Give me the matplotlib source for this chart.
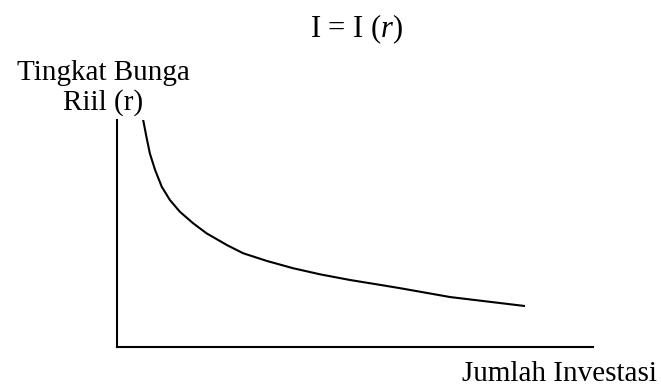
import matplotlib
matplotlib.use('Agg')
import matplotlib.pyplot as plt

plt.rcParams['font.family'] = 'Liberation Serif'
plt.rcParams['mathtext.fontset'] = 'custom'
plt.rcParams['mathtext.rm'] = 'Liberation Serif'
plt.rcParams['mathtext.it'] = 'Liberation Serif:italic'

# Investment demand curve I = I(r) (0-100 scale)
investasi = [5.5, 6.2, 6.9, 8.0, 9.4, 11.1, 13.2, 16.0, 18.8, 23.1, 26.5,
             31.5, 37.0, 42.7, 49.0, 54.6, 59.5, 70.0, 85.5]
bunga = [100, 92.4, 85.3, 78.0, 70.6, 64.8, 59.6, 54.5, 50.1, 44.9, 41.3,
         37.9, 34.7, 32.0, 29.5, 27.6, 25.9, 22.0, 18.1]

W, H = 661, 390
fig = plt.figure(figsize=(W / 100, H / 100), dpi=100)

# axes box in pixels: left 117, right 593, top 120, bottom 347
ax = fig.add_axes([117 / W, (H - 347) / H, (593 - 117) / W, (347 - 120) / H])
ax.plot(investasi, bunga, color='black', linewidth=1.5, solid_joinstyle='round')
ax.set_xlim(0, 100)
ax.set_ylim(0, 100)
ax.spines['top'].set_visible(False)
ax.spines['right'].set_visible(False)
ax.spines['left'].set_linewidth(1.5)
ax.spines['bottom'].set_linewidth(1.5)
ax.set_xticks([])
ax.set_yticks([])

fig.text(357 / W, 1 - 29 / H, 'I = I ($r$)', ha='center', va='center', fontsize=22)
fig.text(103 / W, 1 - 88 / H, 'Tingkat Bunga\nRiil (r)', ha='center', va='center',
         fontsize=21, linespacing=1.15)
fig.text(559 / W, 1 - 374 / H, 'Jumlah Investasi', ha='center', va='center', fontsize=21)

plt.savefig('out.png', dpi=100)
